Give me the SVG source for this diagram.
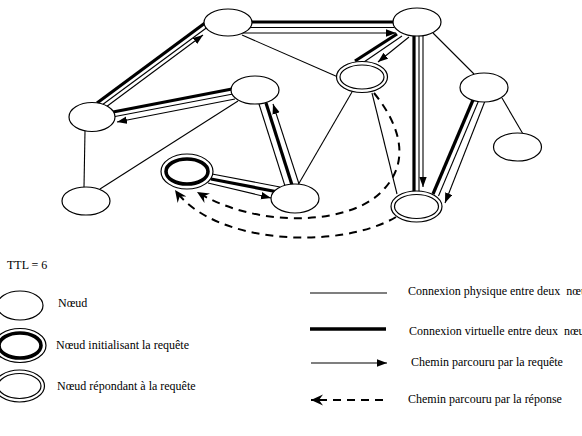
<svg xmlns="http://www.w3.org/2000/svg" width="582" height="436" viewBox="0 0 582 436">
<style>
.n{fill:#fff;stroke:#000;stroke-width:1.2}
.thin{stroke:#000;stroke-width:1.1;fill:none}
.thick{stroke:#000;stroke-width:3.2;fill:none}
.req{stroke:#000;stroke-width:1.1;fill:none;marker-end:url(#ah)}
.resp{stroke:#000;stroke-width:2;fill:none;stroke-dasharray:8,6;marker-end:url(#bh)}
.init{fill:#fff;stroke:#000;stroke-width:3.6}
text{font-family:"Liberation Serif","Times New Roman",serif;font-size:12px;fill:#000}
</style>
<defs>
<marker id="ah" markerUnits="userSpaceOnUse" markerWidth="11" markerHeight="9" refX="10" refY="4" orient="auto"><path d="M0,0.3 L10,4 L0,7.7 z" fill="#000"/></marker>
<marker id="bh" markerUnits="userSpaceOnUse" markerWidth="13" markerHeight="12" refX="12" refY="6" orient="auto"><path d="M0,0.5 L12,6 L0,11.5 L4,6 z" fill="#000"/></marker>
</defs>
<rect width="582" height="436" fill="#fff"/>
<g id="connectors">
<line class="thin" x1="242" y1="35" x2="338" y2="77"/>
<line class="thin" x1="433" y1="33" x2="474" y2="74"/>
<line class="thin" x1="502" y1="98" x2="523" y2="134"/>
<line class="thin" x1="85" y1="131" x2="84" y2="187"/>
<line class="thin" x1="238" y1="101" x2="100" y2="189"/>
<line class="thin" x1="352" y1="92" x2="298" y2="185"/>
<line class="thin" x1="372" y1="93" x2="397" y2="194"/>
<line class="thick" x1="250" y1="22" x2="394" y2="22"/>
<line class="thin" x1="250" y1="27.5" x2="394" y2="27.5"/>
<line class="req" x1="243" y1="33" x2="396" y2="33"/>
<line class="thick" x1="205" y1="23" x2="97" y2="103"/>
<line class="thin" x1="209" y1="26" x2="102" y2="105"/>
<line class="req" x1="106" y1="107" x2="203" y2="35"/>
<line class="thick" x1="232" y1="89" x2="113" y2="112"/>
<line class="thin" x1="233" y1="94" x2="115" y2="116.5"/>
<line class="req" x1="235" y1="99" x2="117" y2="122"/>
<line class="thin" x1="259" y1="104" x2="285" y2="186"/>
<line class="thick" x1="266" y1="103" x2="292" y2="185"/>
<line class="req" x1="299" y1="184" x2="273" y2="104"/>
<line class="thin" x1="212" y1="174" x2="280" y2="187"/>
<line class="thick" x1="211" y1="179" x2="278" y2="192"/>
<line class="req" x1="208" y1="183" x2="271" y2="198"/>
<line class="thick" x1="397" y1="34" x2="355" y2="61"/>
<line class="thin" x1="402" y1="36" x2="364" y2="62"/>
<line class="req" x1="409" y1="37" x2="378" y2="62"/>
<line class="thick" x1="414" y1="36" x2="414" y2="192"/>
<line class="thin" x1="419" y1="36" x2="419" y2="192"/>
<line class="req" x1="423" y1="36" x2="423" y2="187"/>
<line class="thick" x1="473" y1="100" x2="433" y2="194"/>
<line class="thin" x1="478.5" y1="101" x2="438.5" y2="196"/>
<line class="req" x1="485" y1="101" x2="445" y2="203"/>
<path class="resp" d="M374,93 C400,125 410,160 385,188 C355,225 260,230 197,192"/>
<path class="resp" d="M396,217 C340,250 215,245 175,190"/>
</g>
<g id="nA"><ellipse class="n" cx="228" cy="22.5" rx="24" ry="13.5"/></g>
<g id="nB"><ellipse class="n" cx="417" cy="22" rx="24" ry="14"/></g>
<g id="nC"><ellipse class="n" cx="92" cy="117" rx="23" ry="14.5"/></g>
<g id="nD"><ellipse class="n" cx="255" cy="90" rx="24" ry="14"/></g>
<g id="nE"><ellipse class="n" cx="362" cy="77" rx="25.5" ry="15.5"/><ellipse class="n" cx="362" cy="77" rx="22" ry="12"/></g>
<g id="nF"><ellipse class="n" cx="484" cy="87.5" rx="24" ry="14.5"/></g>
<g id="nG"><ellipse class="n" cx="517.5" cy="147" rx="24" ry="14"/></g>
<g id="nH"><ellipse class="n" cx="86" cy="201" rx="24" ry="14"/></g>
<g id="nI"><ellipse class="n" cx="187" cy="171.5" rx="26" ry="17.5"/><ellipse class="init" cx="187" cy="171.5" rx="21" ry="12.5"/></g>
<g id="nJ"><ellipse class="n" cx="295" cy="198.5" rx="24" ry="14.5"/></g>
<g id="nK"><ellipse class="n" cx="416.5" cy="206.5" rx="25.5" ry="15.5"/><ellipse class="n" cx="416.5" cy="206.5" rx="22" ry="12"/></g>
<g id="legend">
<text x="7" y="269">TTL = 6</text>
<ellipse class="n" cx="20" cy="305.5" rx="23" ry="14.5"/>
<text x="58" y="307">Nœud</text>
<ellipse class="n" cx="20" cy="345.5" rx="26" ry="17"/>
<ellipse class="init" cx="20" cy="345.5" rx="21" ry="12.5"/>
<text x="56" y="349">Nœud initialisant la requête</text>
<ellipse class="n" cx="19.5" cy="386" rx="25" ry="16"/>
<ellipse class="n" cx="19.5" cy="386" rx="21.5" ry="12.5"/>
<text x="57" y="390">Nœud répondant à la requête</text>
<line class="thin" x1="310" y1="293" x2="387" y2="293"/>
<text x="408" y="295" xml:space="preserve">Connexion physique entre deux  nœuds</text>
<line class="thick" x1="310" y1="329" x2="386" y2="329" style="stroke-width:3.6"/>
<text x="409" y="335" xml:space="preserve">Connexion virtuelle entre deux  nœuds</text>
<line class="req" x1="311" y1="363" x2="387" y2="363"/>
<text x="411" y="366">Chemin parcouru par la requête</text>
<line class="resp" x1="383" y1="400" x2="311" y2="400"/>
<text x="408" y="403">Chemin parcouru par la réponse</text>
</g>
</svg>
